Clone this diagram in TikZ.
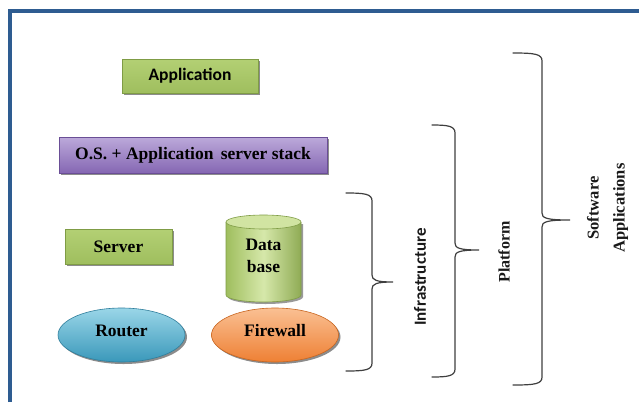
\documentclass[tikz,border=0pt]{standalone}
\usepackage{fontspec}
\setmainfont{Liberation Serif}
\newfontfamily\calfont{Carlito}
\usetikzlibrary{shapes.geometric,shadows}

\definecolor{frameblue}{HTML}{2E5C91}
\definecolor{grntop}{HTML}{B3D074}
\definecolor{grnmid}{HTML}{D6E8AA}
\definecolor{grnbot}{HTML}{9FBE5E}
\definecolor{grnedge}{HTML}{7F9C45}
\definecolor{purtop}{HTML}{BCA9DA}
\definecolor{purbot}{HTML}{8567B3}
\definecolor{puredge}{HTML}{6A4E96}
\definecolor{blutop}{HTML}{9AD6E8}
\definecolor{blubot}{HTML}{3A98BA}
\definecolor{bluedge}{HTML}{2F7E9C}
\definecolor{orgtop}{HTML}{FAC093}
\definecolor{orgbot}{HTML}{EE8034}
\definecolor{orgedge}{HTML}{C8651F}
\definecolor{bracegray}{HTML}{3F3F3F}

% right-facing curly brace: arm x, spine x, tip x, top y, tip y, bottom y
\newcommand{\curlybrace}[6]{%
  \draw[bracestyle] (#1,#4) .. controls ({#2-7},#4) and (#2,{#4+1}) .. (#2,{#4+8})
    -- (#2,{#5-7}) .. controls (#2,{#5-2}) and ({#2+4},#5) .. (#3,#5)
    .. controls ({#2+4},#5) and (#2,{#5+2}) .. (#2,{#5+7})
    -- (#2,{#6-8}) .. controls (#2,{#6-1}) and ({#2-7},#6) .. (#1,#6);}

\begin{document}
\begin{tikzpicture}[x=1pt,y=-1pt,
  shadowed/.style={drop shadow={shadow xshift=2pt,shadow yshift=-2pt,fill=black,opacity=0.45}},
  serifbold/.style={font=\bfseries\fontsize{17.5}{22}\selectfont},
  greenbox/.style={rectangle,draw=grnedge,line width=0.6pt,top color=grntop,
    middle color=grnmid,bottom color=grnbot,shadowed,inner sep=0pt},
  purplebox/.style={rectangle,draw=puredge,line width=0.6pt,top color=purtop,
    bottom color=purbot,shadowed,inner sep=0pt},
  blueoval/.style={ellipse,draw=bluedge,line width=0.6pt,top color=blutop,
    bottom color=blubot,shadowed,inner sep=0pt},
  orangeoval/.style={ellipse,draw=orgedge,line width=0.6pt,top color=orgtop,
    bottom color=orgbot,shadowed,inner sep=0pt},
  bracestyle/.style={draw=bracegray,line width=1.2pt,line cap=round},
  label/.style={text=black!90,rotate=90}]
\useasboundingbox (0,0) rectangle (639,402);
\fill[white] (0,0) rectangle (639,402);

% outer frame (left and top edges)
\draw[frameblue,line width=4pt] (10,402) -- (10,11) -- (639,11);

% layer boxes
\node[greenbox,minimum width=136pt,minimum height=34pt,
      font=\calfont\bfseries\fontsize{17.5}{20}\selectfont] (app) at (190,76) {Application};
\node[purplebox,serifbold,minimum width=268pt,minimum height=36pt] (os) at (193,155)
  {O.S. + Application\, server stack};
\node[greenbox,serifbold,minimum width=107pt,minimum height=35pt] (server) at (118.5,246.5) {Server};

% database cylinder
\fill[black,opacity=0.4] (228,224) -- (228,297) arc[start angle=180,end angle=0,x radius=37.5,y radius=7] -- (303,224) -- cycle;
\shade[left color=grnbot,right color=grnbot!90!black,middle color=grnmid]
  (226,222) -- (226,295) arc[start angle=180,end angle=0,x radius=37.5,y radius=7] -- (301,222) -- cycle;
\draw[grnedge,line width=0.6pt]
  (226,222) -- (226,295) arc[start angle=180,end angle=0,x radius=37.5,y radius=7] -- (301,222);
\filldraw[fill=grnmid!85!grntop,draw=grnedge,line width=0.6pt] (263.5,222) ellipse [x radius=37.5,y radius=7];
\node[serifbold,align=center,inner sep=0pt] (db) at (263.5,256) {Data\\base};

% network ovals
\node[blueoval,minimum width=127pt,minimum height=54pt] (router) at (121.5,335) {};
\node[serifbold,inner sep=0pt] (routertext) at (121.5,331) {Router};
\node[orangeoval,minimum width=127pt,minimum height=54pt] (firewall) at (275,335) {};
\node[serifbold,inner sep=0pt] (firewalltext) at (275,331) {Firewall};

% grouping braces
\curlybrace{346}{372}{393}{193}{282}{371}
\curlybrace{432}{455}{479}{125}{250}{377}
\curlybrace{513}{542}{570}{53}{220}{385}

% group labels
\node[label,font=\calfont\bfseries\fontsize{17}{20}\selectfont] (infra) at (420,277) {Infrastructure};
\node[label,font=\bfseries\fontsize{16}{20}\selectfont] (platform) at (504,252) {Platform};
\node[label,font=\bfseries\fontsize{16.5}{26}\selectfont,align=center] (software) at (607.5,208) {Software\\Applications};
\end{tikzpicture}
\end{document}
